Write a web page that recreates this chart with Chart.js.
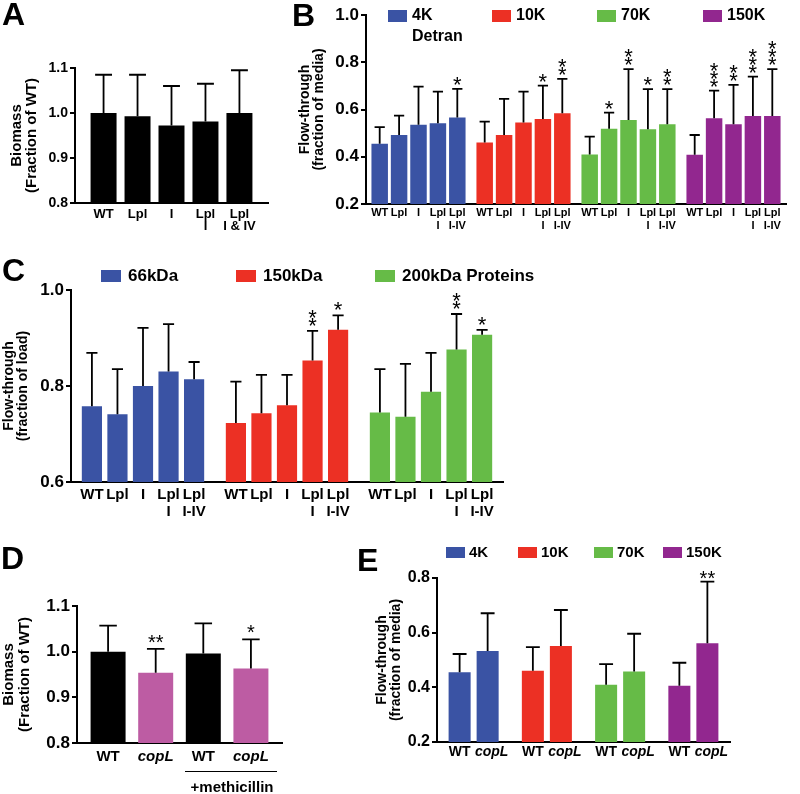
<!DOCTYPE html>
<html>
<head>
<meta charset="utf-8">
<script src="https://cdn.jsdelivr.net/npm/chart.js@4"></script>
<style>
  body { margin: 0; background: #fff; }
  canvas { position: absolute; left: 0; top: 0; }
</style>
</head>
<body>
<canvas id="chartA" width="800" height="794"></canvas>
<canvas id="chartB" width="800" height="794"></canvas>
<canvas id="chartC" width="800" height="794"></canvas>
<canvas id="chartD" width="800" height="794"></canvas>
<canvas id="chartE" width="800" height="794"></canvas>
<script>
var FONT = "'Liberation Sans', Arial, Helvetica, sans-serif";
var BLUE = '#3A53A4', RED = '#EC3024', GREEN = '#66BB47', PURPLE = '#92278F', PINK = '#BD5CA3';

// A - biomass of the lipoprotein mutants
var aStrains = ['WT', 'Lpl', 'I', ['Lpl', 'I'], ['Lpl', 'I & IV']];
var aMeans = [1.000, 0.993, 0.972, 0.981, 1.000];
var aSD = [0.085, 0.092, 0.088, 0.084, 0.095];
var aSig = ['', '', '', '', ''];
var aTicks = [0.8, 0.9, 1.0, 1.1];

// B - dextran flow-through
var bStrains = ['WT', 'Lpl', 'I', ['Lpl', 'I'], ['Lpl', 'I-IV']];
var bDextrans = [['4K', 'Detran'], '10K', '70K', '150K'];
var bColors = [BLUE, RED, GREEN, PURPLE];
var bMean4K = [0.455, 0.492, 0.535, 0.542, 0.566];
var bSD4K = [0.070, 0.082, 0.162, 0.134, 0.121];
var bSig4K = ['', '', '', '', '*'];
var bMean10K = [0.460, 0.492, 0.545, 0.560, 0.584];
var bSD10K = [0.089, 0.153, 0.131, 0.141, 0.146];
var bSig10K = ['', '', '', '*', '**'];
var bMean70K = [0.410, 0.518, 0.556, 0.516, 0.538];
var bSD70K = [0.075, 0.069, 0.215, 0.170, 0.148];
var bSig70K = ['', '*', '**', '*', '**'];
var bMean150K = [0.408, 0.563, 0.538, 0.573, 0.573];
var bSD150K = [0.084, 0.117, 0.166, 0.166, 0.198];
var bSig150K = ['', '***', '**', '***', '***'];
var bTicks = [0.2, 0.4, 0.6, 0.8, 1.0];

// C - protein flow-through
var cStrains = ['WT', 'Lpl', 'I', ['Lpl', 'I'], ['Lpl', 'I-IV']];
var cProteins = ['66kDa', '150kDa', '200kDa Proteins'];
var cColors = [BLUE, RED, GREEN];
var cMean66 = [0.758, 0.741, 0.800, 0.830, 0.814];
var cSD66 = [0.111, 0.094, 0.121, 0.099, 0.036];
var cSig66 = ['', '', '', '', ''];
var cMean150 = [0.723, 0.743, 0.760, 0.853, 0.917];
var cSD150 = [0.086, 0.080, 0.063, 0.062, 0.030];
var cSig150 = ['', '', '', '**', '*'];
var cMean200 = [0.745, 0.736, 0.788, 0.876, 0.907];
var cSD200 = [0.090, 0.110, 0.081, 0.074, 0.010];
var cSig200 = ['', '', '', '**', '*'];
var cTicks = [0.6, 0.8, 1.0];

// D - biomass of copL
var dStrains = ['WT', 'copL', 'WT', 'copL'];
var dMeans = [1.000, 0.954, 0.996, 0.963];
var dSD = [0.057, 0.052, 0.066, 0.064];
var dSig = ['', '**', '', '*'];
var dTicks = [0.8, 0.9, 1.0, 1.1];

// E - dextran flow-through of copL
var eDextrans = ['4K', '10K', '70K', '150K'];
var eColors = [BLUE, RED, GREEN, PURPLE];
var eMeanWT = [0.455, 0.461, 0.409, 0.406];
var eSDWT = [0.067, 0.086, 0.076, 0.084];
var eSigWT = ['', '', '', ''];
var eMeanCopL = [0.533, 0.551, 0.458, 0.561];
var eSDCopL = [0.138, 0.132, 0.138, 0.226];
var eSigCopL = ['', '', '', '**'];
var eTicks = [0.2, 0.4, 0.6, 0.8];

function bySlot(groups, i) {
    return groups.map(function(g) { return g[i]; });
}

// one dataset per strain, one category per dextran / protein
function groupedSeries(strains, means, sds, sigs, colors) {
    return strains.map(function(name, i) {
        return { tag: name, values: bySlot(means, i), errs: bySlot(sds, i), sig: bySlot(sigs, i), color: colors };
    });
}

// a single category, one dataset per bar
function singleSeries(strains, means, sds, sigs, colors) {
    return strains.map(function(name, i) {
        return { tag: name, values: [means[i]], errs: [sds[i]], sig: [sigs[i]], color: colors[i] };
    });
}

function drawDeco(chart, p) {
    var ctx = chart.ctx;
    var y = chart.scales.y;
    ctx.save();
    ctx.fillStyle = '#000';
    ctx.strokeStyle = '#000';

    ctx.font = 'normal ' + p.starSize + 'px ' + FONT;
    var m = ctx.measureText('*');
    var mid = (m.actualBoundingBoxAscent - m.actualBoundingBoxDescent) / 2;

    chart.data.datasets.forEach(function(ds, di) {
        var meta = chart.getDatasetMeta(di);
        meta.data.forEach(function(el, j) {
            var bar = el.getProps(['x', 'y', 'width'], true);
            var top = y.getPixelForValue(ds.data[j] + ds.errs[j]);
            var half = bar.width * p.cap / 2;
            ctx.lineWidth = 1.8;
            ctx.beginPath();
            ctx.moveTo(bar.x, bar.y);
            ctx.lineTo(bar.x, top);
            ctx.moveTo(bar.x - half, top);
            ctx.lineTo(bar.x + half, top);
            ctx.stroke();

            var s = ds.sig[j];
            ctx.font = 'normal ' + p.starSize + 'px ' + FONT;
            ctx.textAlign = 'center';
            ctx.textBaseline = 'alphabetic';
            if (s && p.stack) {
                for (var k = 0; k < s.length; k++) {
                    ctx.fillText('*', bar.x, top - p.starGap - k * p.starStep + mid);
                }
            } else if (s) {
                ctx.fillText(s, bar.x, top - p.starGap + mid);
            }

            var lines = [].concat(ds.tag);
            ctx.textBaseline = 'middle';
            lines.forEach(function(t, k) {
                var italic = (p.italic || []).indexOf(t) >= 0;
                ctx.font = (italic ? 'italic ' : '') + 'bold ' + p.labelSize + 'px ' + FONT;
                ctx.fillText(t, bar.x + (italic ? p.italicShift || 0 : 0), p.labelY + k * p.labelLH);
            });
        });
    });

    // panel letter
    ctx.textAlign = 'left';
    ctx.textBaseline = 'alphabetic';
    ctx.font = 'bold 32px ' + FONT;
    ctx.fillText(p.letter, p.letterX, p.letterY);

    // legend
    if (p.legend) {
        var L = p.legend;
        L.names.forEach(function(name, i) {
            ctx.fillStyle = L.colors[i];
            ctx.fillRect(L.xs[i], L.y, L.box[0], L.box[1]);
            ctx.fillStyle = '#000';
            ctx.font = 'bold ' + L.size + 'px ' + FONT;
            ctx.textBaseline = 'middle';
            [].concat(name).forEach(function(t, k) {
                ctx.fillText(t, L.xs[i] + L.box[0] + L.gap, L.y + L.box[1] / 2 + k * L.lh);
            });
        });
    }
    if (p.extra) p.extra(ctx);
    ctx.restore();
}

function makePanel(id, p) {
    var datasets = p.series.map(function(s) {
        return {
            label: [].concat(s.tag).join(' '),
            data: s.values,
            errs: s.errs,
            sig: s.sig,
            tag: s.tag,
            backgroundColor: s.color,
            borderWidth: 0,
            categoryPercentage: p.catPct,
            barPercentage: p.barPct
        };
    });
    var scaleLeft = p.titleX - p.titleLH / 2;
    return new Chart(document.getElementById(id).getContext('2d'), {
        type: 'bar',
        data: { labels: p.categories, datasets: datasets },
        options: {
            responsive: false,
            animation: false,
            devicePixelRatio: 1,
            layout: { padding: { left: scaleLeft, top: p.area.t, right: 800 - p.area.r, bottom: 794 - p.area.b } },
            plugins: { legend: { display: false }, tooltip: { enabled: false } },
            scales: {
                x: {
                    grid: { display: false },
                    border: { color: '#000', width: 2 },
                    ticks: { display: false },
                    afterFit: function(s) { s.height = 0; }
                },
                y: {
                    min: p.ticks[0],
                    max: p.ticks[p.ticks.length - 1],
                    ticks: {
                        stepSize: p.ticks[1] - p.ticks[0],
                        callback: function(v) { return v.toFixed(1); },
                        font: { family: FONT, size: p.tickSize, weight: 'bold' },
                        color: '#000',
                        padding: 2
                    },
                    grid: { drawOnChartArea: false, drawTicks: true, tickLength: 5, color: '#000', lineWidth: 2 },
                    border: { color: '#000', width: 2 },
                    title: {
                        display: true,
                        text: p.title,
                        color: '#000',
                        padding: 0,
                        font: { family: FONT, size: p.titleSize, weight: 'bold', lineHeight: p.titleLH / p.titleSize }
                    },
                    afterFit: function(s) { s.width = p.area.l - scaleLeft; }
                }
            }
        },
        plugins: [{ id: 'deco', afterDatasetsDraw: function(chart) { drawDeco(chart, p); } }]
    });
}

makePanel('chartA', {
    letter: 'A', letterX: 2, letterY: 25,
    categories: [''],
    series: singleSeries(aStrains, aMeans, aSD, aSig, aStrains.map(function() { return '#000'; })),
    ticks: aTicks, tickSize: 14,
    area: { l: 75, t: 68, r: 268, b: 203 },
    title: ['Biomass', '(Fraction of WT)'], titleSize: 15, titleX: 17, titleLH: 15,
    catPct: 0.88, barPct: 0.765, cap: 0.65,
    labelSize: 13, labelY: 214, labelLH: 12,
    starSize: 20, starGap: 8, starStep: 8, stack: false
});

makePanel('chartB', {
    letter: 'B', letterX: 292, letterY: 26,
    categories: bDextrans.map(function(d) { return [].concat(d)[0]; }),
    series: groupedSeries(bStrains, [bMean4K, bMean10K, bMean70K, bMean150K],
        [bSD4K, bSD10K, bSD70K, bSD150K], [bSig4K, bSig10K, bSig70K, bSig150K], bColors),
    ticks: bTicks, tickSize: 17,
    area: { l: 366, t: 15, r: 786, b: 204 },
    title: ['Flow-through', '(fraction of media)'], titleSize: 14, titleX: 305, titleLH: 14,
    catPct: 0.924, barPct: 0.85, cap: 0.62,
    labelSize: 11, labelY: 213, labelLH: 13,
    starSize: 22, starGap: 8, starStep: 8, stack: true,
    legend: { names: bDextrans, colors: bColors, xs: [388, 492, 597, 703], y: 10, box: [19, 12], size: 16, gap: 5, lh: 21 }
});

makePanel('chartC', {
    letter: 'C', letterX: 2, letterY: 281,
    categories: cProteins,
    series: groupedSeries(cStrains, [cMean66, cMean150, cMean200],
        [cSD66, cSD150, cSD200], [cSig66, cSig150, cSig200], cColors),
    ticks: cTicks, tickSize: 17,
    area: { l: 71, t: 290, r: 503, b: 482 },
    title: ['Flow-through', '(fraction of load)'], titleSize: 14, titleX: 9, titleLH: 14,
    catPct: 0.887, barPct: 0.79, cap: 0.55,
    labelSize: 15, labelY: 495, labelLH: 17,
    starSize: 22, starGap: 9, starStep: 8, stack: true,
    legend: { names: cProteins, colors: cColors, xs: [101, 236, 375], y: 270, box: [20, 12], size: 17, gap: 7, lh: 20 }
});

makePanel('chartD', {
    letter: 'D', letterX: 1, letterY: 569,
    categories: [''],
    series: singleSeries(dStrains, dMeans, dSD, dSig, ['#000', PINK, '#000', PINK]),
    ticks: dTicks, tickSize: 17,
    area: { l: 77, t: 606, r: 282, b: 743 },
    title: ['Biomass', '(Fraction of WT)'], titleSize: 15, titleX: 9, titleLH: 16,
    catPct: 0.929, barPct: 0.735, cap: 0.5,
    labelSize: 15, labelY: 757, labelLH: 16, italic: ['copL'],
    starSize: 20, starGap: 10, starStep: 8, stack: false,
    extra: function(ctx) {
        ctx.lineWidth = 1;
        ctx.strokeStyle = '#000';
        ctx.beginPath();
        ctx.moveTo(185, 771.5);
        ctx.lineTo(277, 771.5);
        ctx.stroke();
        ctx.textAlign = 'center';
        ctx.textBaseline = 'middle';
        ctx.font = 'bold 15px ' + FONT;
        ctx.fillText('+methicillin', 232, 788);
    }
});

makePanel('chartE', {
    letter: 'E', letterX: 357, letterY: 571,
    categories: eDextrans,
    series: [
        { tag: 'WT', values: eMeanWT, errs: eSDWT, sig: eSigWT, color: eColors },
        { tag: 'copL', values: eMeanCopL, errs: eSDCopL, sig: eSigCopL, color: eColors }
    ],
    ticks: eTicks, tickSize: 16,
    area: { l: 437, t: 578, r: 730, b: 742 },
    title: ['Flow-through', '(fraction of media)'], titleSize: 14, titleX: 382, titleLH: 14,
    catPct: 0.765, barPct: 0.786, cap: 0.63,
    labelSize: 14, labelY: 752, labelLH: 16, italic: ['copL'], italicShift: 4,
    starSize: 20, starGap: 7, starStep: 8, stack: false,
    legend: { names: eDextrans, colors: eColors, xs: [446, 518, 594, 663], y: 547, box: [19, 11], size: 15, gap: 4, lh: 18 }
});
</script>
</body>
</html>
